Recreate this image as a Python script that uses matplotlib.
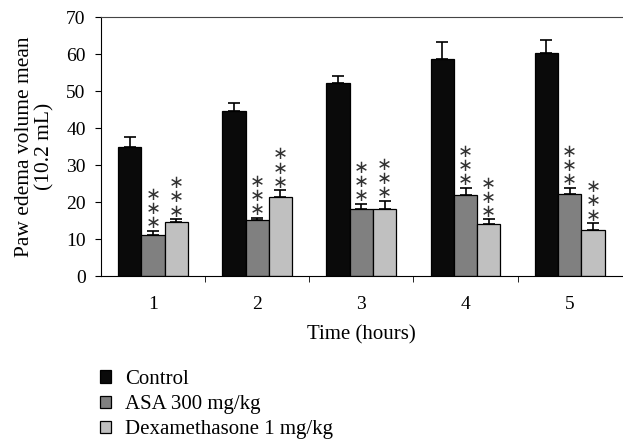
import numpy as np
import matplotlib
matplotlib.use("Agg")
import matplotlib.pyplot as plt

plt.rcParams['font.family'] = ['Liberation Serif', 'DejaVu Serif']

hours = ['1', '2', '3', '4', '5']
series = ['Control', 'ASA 300 mg/kg', 'Dexamethasone 1 mg/kg']
means = [
    [35.0, 44.6, 52.1, 58.6, 60.3],   # Control
    [11.1, 15.1, 18.1, 21.9, 22.2],   # ASA
    [14.7, 21.4, 18.2, 14.0, 12.4],   # Dexamethasone
]
errs = [
    [2.6, 2.3, 2.0, 4.7, 3.5],
    [1.1, 0.6, 1.5, 2.0, 1.7],
    [0.7, 1.8, 2.2, 1.3, 1.9],
]
signif = [
    [False] * 5,
    [True] * 5,
    [True] * 5,
]
colors = ['#0a0a0a', '#808080', '#c0c0c0']
fs = 14

fig = plt.figure(figsize=(6.23, 4.41), dpi=100)
ax = fig.add_axes([0.162, 0.374, 0.836, 0.587])

x = np.arange(1, len(hours) + 1)
w = 0.223
offsets = [-w, 0, w]
for i in range(3):
    pos = x + offsets[i]
    ax.bar(pos, means[i], width=w, color=colors[i], edgecolor='black',
           linewidth=0.9, label=series[i], zorder=2)
    ax.errorbar(pos, means[i], yerr=[np.zeros(5), errs[i]], fmt='none',
                ecolor='black', elinewidth=1.2, capsize=4, capthick=1.2, zorder=3)
    for j in range(5):
        if signif[i][j]:
            ax.annotate('\u2217\n\u2217\n\u2217', (pos[j], means[i][j] + errs[i][j]),
                        xytext=(0, -1), textcoords='offset points',
                        ha='center', va='bottom', fontsize=13,
                        linespacing=0.72, family='DejaVu Sans', color='#333333')

ax.set_xlim(0.5, 5.5)
ax.set_ylim(0, 70)
ax.set_yticks(range(0, 71, 10))
ax.set_xticks(x)
ax.set_xticklabels(hours)
ax.set_xticks(np.arange(1.5, 5.5, 1), minor=True)
ax.tick_params(axis='x', which='major', length=0, pad=14, labelsize=fs)
ax.tick_params(axis='x', which='minor', length=4, direction='out')
ax.tick_params(axis='y', length=4, direction='out', labelsize=fs, pad=7)

ax.spines['right'].set_visible(False)
ax.spines['top'].set_color('#444444')
ax.set_xlabel('Time (hours)', fontsize=15, labelpad=9)
ax.set_ylabel('Paw edema volume mean\n(10.2 mL)', fontsize=15.5, linespacing=1.15, labelpad=8)

fig.legend(loc='upper left', bbox_to_anchor=(0.147, 0.18), frameon=False,
           fontsize=15, handlelength=0.55, handleheight=0.55, labelspacing=0.3,
           handletextpad=0.65, borderaxespad=0)

fig.savefig('out.png', dpi=100)
